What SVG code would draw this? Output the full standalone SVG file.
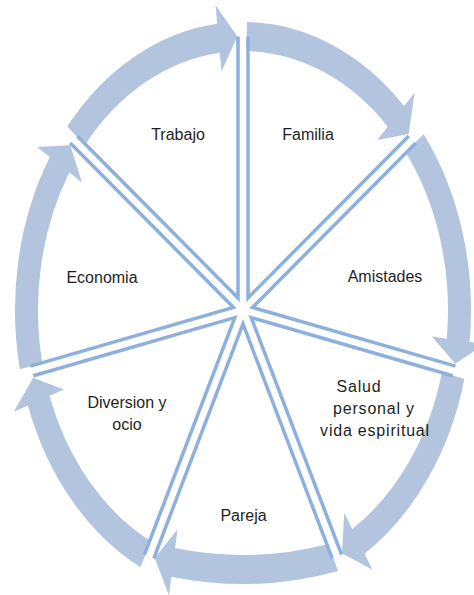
<svg xmlns="http://www.w3.org/2000/svg" width="474" height="595" viewBox="0 0 474 595">
  <style>
    .ring { fill: #B2C4DE; stroke: none; }
    .edge { fill: none; stroke: #8DB0DC; stroke-width: 3.5; stroke-linejoin: miter; }
    .label { font-family: "Liberation Sans", Arial, sans-serif; font-size: 16px; fill: #1f1f1f; text-anchor: middle; }
    .wide { letter-spacing: 0.8px; }
  </style>
  <rect width="474" height="595" fill="#ffffff"/>

  <!-- curved arrows around the cycle, drawn in circle space and stretched to an ellipse -->
  <g id="connectors" transform="translate(243 310) scale(1 1.2633)">
    <path class="ring" d="M 3.98 -227.97 A 228 228 0 0 1 161.02 -161.42 L 171.61 -172.04 L 165.67 -139.37 L 134.18 -134.52 L 144.78 -145.14 A 205 205 0 0 0 3.58 -204.97 Z"/>
    <path class="ring" d="M 180.72 -139.03 A 228 228 0 0 1 226.60 25.24 L 241.51 26.90 L 212.26 42.64 L 188.83 21.04 L 203.74 22.70 A 205 205 0 0 0 162.49 -125.00 Z"/>
    <path class="ring" d="M 221.36 54.61 A 228 228 0 0 1 121.54 192.91 L 129.53 205.60 L 99.00 192.54 L 101.28 160.76 L 109.28 173.45 A 205 205 0 0 0 199.03 49.10 Z"/>
    <path class="ring" d="M 95.1 206.6 A 444.5 444.5 0 0 1 -71.6 211.1 L -74.0 225.9 L -88.3 196.3 L -65.5 173.6 L -67.9 188.4 A 421.5 421.5 0 0 0 85.2 185.2 Z"/>
    <path class="ring" d="M -102.50 203.67 A 228 228 0 0 1 -215.12 75.57 L -229.27 80.54 L -209.74 53.69 L -179.26 62.98 L -193.42 67.95 A 205 205 0 0 0 -92.16 183.12 Z"/>
    <path class="ring" d="M -223.14 46.85 A 228 228 0 0 1 -193.20 -121.06 L -205.92 -129.03 L -172.74 -130.51 L -161.00 -100.89 L -173.71 -108.85 A 205 205 0 0 0 -200.63 42.12 Z"/>
    <path class="ring" d="M -175.75 -145.25 A 228 228 0 0 1 -25.81 -226.53 L -27.51 -241.44 L -5.67 -216.43 L -21.51 -188.78 L -23.21 -203.68 A 205 205 0 0 0 -158.02 -130.60 Z"/>
  </g>

  <!-- segments: each wedge outline with its label -->
  <g id="familia">
    <polyline class="edge" points="248,36.5 248,297.9 408.8,136"/>
    <text class="label" x="308" y="140">Familia</text>
  </g>
  <g id="amistades">
    <polyline class="edge" points="415.8,143 252.5,307.5 455.5,366.1"/>
    <text class="label" x="385" y="282">Amistades</text>
  </g>
  <g id="salud">
    <polyline class="edge" points="452.7,375.7 251.2,317.6 341.6,554.7"/>
    <text class="label wide" x="359" y="392">Salud</text>
    <text class="label wide" x="374" y="414">personal y</text>
    <text class="label wide" x="375" y="436">vida espiritual</text>
  </g>
  <g id="pareja">
    <polyline class="edge" points="332.2,558.3 243,324 153.8,558.3"/>
    <text class="label" x="243.5" y="521">Pareja</text>
  </g>
  <g id="diversion">
    <polyline class="edge" points="144.4,554.7 234.8,317.6 33.3,375.7"/>
    <text class="label" x="127" y="408">Diversion y</text>
    <text class="label" x="127" y="430">ocio</text>
  </g>
  <g id="economia">
    <polyline class="edge" points="30.5,366.1 233.5,307.5 70.2,143"/>
    <text class="label" x="102" y="283">Economia</text>
  </g>
  <g id="trabajo">
    <polyline class="edge" points="77.2,136 238,297.9 238,36.5"/>
    <text class="label" x="178" y="140">Trabajo</text>
  </g>
</svg>
